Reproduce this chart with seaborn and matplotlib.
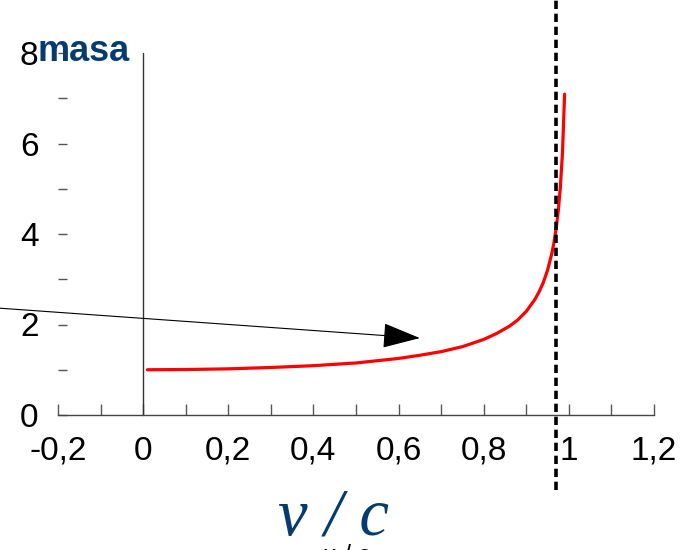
import matplotlib
matplotlib.use("Agg")
import matplotlib.pyplot as plt
import seaborn as sns
import pandas as pd

# data
v_over_c = [0.01, 0.1, 0.2, 0.3, 0.4, 0.5, 0.6, 0.65, 0.7, 0.75, 0.8, 0.83, 0.86,
            0.88, 0.9, 0.92, 0.93, 0.94, 0.95, 0.96, 0.965, 0.97, 0.975, 0.98, 0.985, 0.99]
masa = [1.0, 1.005, 1.02, 1.05, 1.09, 1.15, 1.25, 1.32, 1.40, 1.51, 1.67, 1.80, 1.96,
        2.10, 2.29, 2.55, 2.72, 2.93, 3.20, 3.57, 3.81, 4.11, 4.50, 5.03, 5.79, 7.09]
limit_x = 0.97
x_ticks = [-0.2, 0, 0.2, 0.4, 0.6, 0.8, 1.0, 1.2]
x_tick_labels = ["-0,2", "0", "0,2", "0,4", "0,6", "0,8", "1", "1,2"]
y_ticks = [0, 2, 4, 6, 8]
y_tick_labels = ["0", "2", "4", "6", "8"]
arrow_start = (-0.336, 2.36)
arrow_end = (0.65, 1.70)

sns.set_style("white")
plt.rcParams['font.family'] = ['Liberation Sans', 'DejaVu Sans']

df = pd.DataFrame({"v": v_over_c, "m": masa})

fig = plt.figure(figsize=(6.88, 5.5), dpi=100)
ax = fig.add_axes([58/688, 135/550, (654-58)/688, (415-53)/550])

sns.lineplot(data=df, x="v", y="m", color="#ff0000", linewidth=2.3, ax=ax, legend=False)

ax.set_xlim(-0.2, 1.2)
ax.set_ylim(0, 8)
ax.set_xlabel("")
ax.set_ylabel("")

for s in ["top", "right", "left"]:
    ax.spines[s].set_visible(False)
ax.spines["bottom"].set_color("#444444")
ax.spines["bottom"].set_linewidth(1.0)

ax.set_xticks(x_ticks)
ax.set_xticklabels(x_tick_labels)
ax.set_xticks([-0.1, 0.1, 0.3, 0.5, 0.7, 0.9, 1.1], minor=True)
ax.set_yticks(y_ticks)
ax.set_yticklabels(y_tick_labels)
ax.set_yticks([1, 3, 5, 7], minor=True)

ax.tick_params(axis="x", which="both", direction="in", length=8, width=1,
               color="#555555", labelsize=24, labelcolor="black", pad=15, bottom=True)
ax.tick_params(axis="y", which="both", direction="in", length=6.5, width=1,
               color="#555555", labelsize=24, labelcolor="black", pad=14, left=True)

# vertical axis line at x = 0
ax.plot([0, 0], [0, 8], color="#333333", linewidth=1.0, clip_on=False)

# dashed limit line
ax.axvline(limit_x, ymin=-75/362, ymax=415/362, color="black", linewidth=2.6,
           dashes=(2.3, 1.3), clip_on=False)

# arrow
ax.annotate("", xy=arrow_end, xytext=arrow_start, annotation_clip=False,
            arrowprops=dict(arrowstyle="-|>,head_length=1.2,head_width=0.4",
                            color="black", lw=0.8, mutation_scale=20,
                            shrinkA=0, shrinkB=0))

fig.text(37/688, 1 - 52/550, "masa", color="#063b70", fontsize=26,
         fontweight="bold", ha="left", va="center")
fig.text(347/688, 1 - 544/550, "u / c", color="black", fontsize=18,
         ha="center", va="top")
fig.text(333/688, 15/550, "v / c", color="#063b70", fontsize=48,
         family="Liberation Serif", style="italic",
         ha="center", va="baseline")

fig.savefig("out.png", dpi=100)
